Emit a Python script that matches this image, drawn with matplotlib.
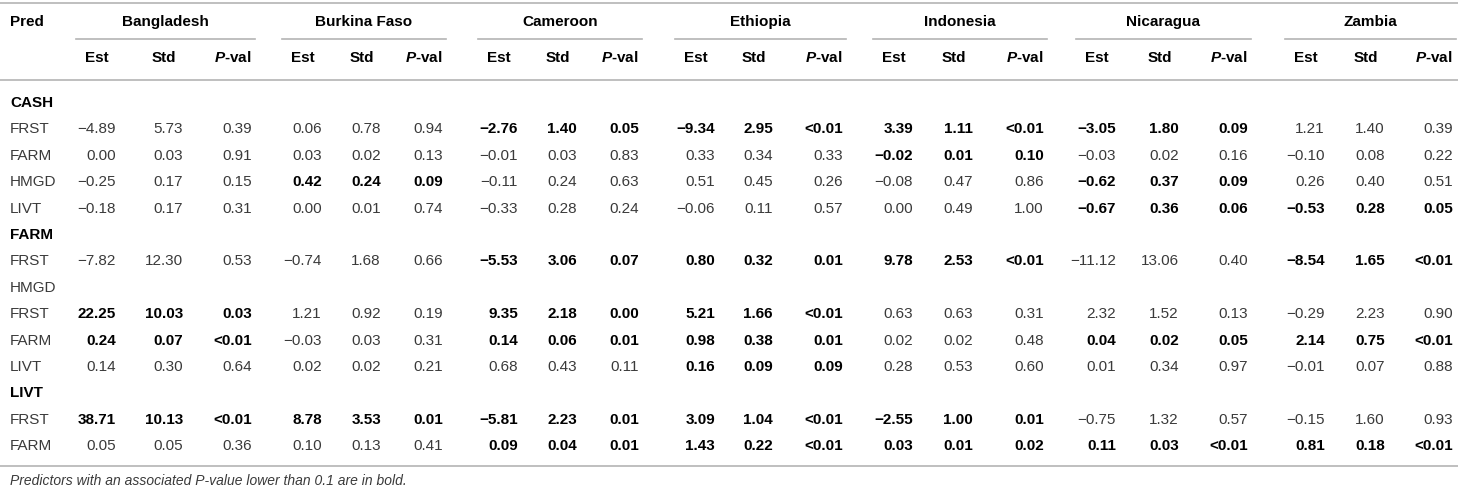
import matplotlib
matplotlib.use('Agg')
import matplotlib.pyplot as plt

plt.rcParams['font.family'] = ['Liberation Sans', 'DejaVu Sans']
plt.rcParams['mathtext.fontset'] = 'custom'
plt.rcParams['mathtext.rm'] = 'Liberation Sans'
plt.rcParams['mathtext.it'] = 'Liberation Sans:italic'
plt.rcParams['mathtext.bf'] = 'Liberation Sans:bold'
plt.rcParams['mathtext.bfit'] = 'Liberation Sans:italic:bold'

# 表格数据
countries = ['Bangladesh', 'Burkina Faso', 'Cameroon', 'Ethiopia', 'Indonesia', 'Nicaragua', 'Zambia']
sub_cols = ['Est', 'Std', 'P-val']

# 行标签: (文字, 是否分组标题)
row_labels = [('CASH', True), ('FRST', False), ('FARM', False), ('HMGD', False), ('LIVT', False),
              ('FARM', True), ('FRST', False),
              ('HMGD', False), ('FRST', False), ('FARM', False), ('LIVT', False),
              ('LIVT', True), ('FRST', False), ('FARM', False)]

est = {
    'Bangladesh':   ['−4.89', '0.00', '−0.25', '−0.18', '−7.82', '22.25', '0.24', '0.14', '38.71', '0.05'],
    'Burkina Faso': ['0.06', '0.03', '0.42', '0.00', '−0.74', '1.21', '−0.03', '0.02', '8.78', '0.10'],
    'Cameroon':     ['−2.76', '−0.01', '−0.11', '−0.33', '−5.53', '9.35', '0.14', '0.68', '−5.81', '0.09'],
    'Ethiopia':     ['−9.34', '0.33', '0.51', '−0.06', '0.80', '5.21', '0.98', '0.16', '3.09', '1.43'],
    'Indonesia':    ['3.39', '−0.02', '−0.08', '0.00', '9.78', '0.63', '0.02', '0.28', '−2.55', '0.03'],
    'Nicaragua':    ['−3.05', '−0.03', '−0.62', '−0.67', '−11.12', '2.32', '0.04', '0.01', '−0.75', '0.11'],
    'Zambia':       ['1.21', '−0.10', '0.26', '−0.53', '−8.54', '−0.29', '2.14', '−0.01', '−0.15', '0.81'],
}
std = {
    'Bangladesh':   ['5.73', '0.03', '0.17', '0.17', '12.30', '10.03', '0.07', '0.30', '10.13', '0.05'],
    'Burkina Faso': ['0.78', '0.02', '0.24', '0.01', '1.68', '0.92', '0.03', '0.02', '3.53', '0.13'],
    'Cameroon':     ['1.40', '0.03', '0.24', '0.28', '3.06', '2.18', '0.06', '0.43', '2.23', '0.04'],
    'Ethiopia':     ['2.95', '0.34', '0.45', '0.11', '0.32', '1.66', '0.38', '0.09', '1.04', '0.22'],
    'Indonesia':    ['1.11', '0.01', '0.47', '0.49', '2.53', '0.63', '0.02', '0.53', '1.00', '0.01'],
    'Nicaragua':    ['1.80', '0.02', '0.37', '0.36', '13.06', '1.52', '0.02', '0.34', '1.32', '0.03'],
    'Zambia':       ['1.40', '0.08', '0.40', '0.28', '1.65', '2.23', '0.75', '0.07', '1.60', '0.18'],
}
pval = {
    'Bangladesh':   ['0.39', '0.91', '0.15', '0.31', '0.53', '0.03', '<0.01', '0.64', '<0.01', '0.36'],
    'Burkina Faso': ['0.94', '0.13', '0.09', '0.74', '0.66', '0.19', '0.31', '0.21', '0.01', '0.41'],
    'Cameroon':     ['0.05', '0.83', '0.63', '0.24', '0.07', '0.00', '0.01', '0.11', '0.01', '0.01'],
    'Ethiopia':     ['<0.01', '0.33', '0.26', '0.57', '0.01', '<0.01', '0.01', '0.09', '<0.01', '<0.01'],
    'Indonesia':    ['<0.01', '0.10', '0.86', '1.00', '<0.01', '0.31', '0.48', '0.60', '0.01', '0.02'],
    'Nicaragua':    ['0.09', '0.16', '0.09', '0.06', '0.40', '0.13', '0.05', '0.97', '0.57', '<0.01'],
    'Zambia':       ['0.39', '0.22', '0.51', '0.05', '<0.01', '0.90', '<0.01', '0.88', '0.93', '<0.01'],
}

footnote = 'Predictors with an associated P-value lower than 0.1 are in bold.'

# 布局 (像素)
W, H = 1458, 492
col_right = [116, 183, 252, 322, 381, 443, 518, 577, 639, 715, 773, 843,
             913, 973, 1044, 1116, 1179, 1248, 1325, 1385, 1453]
y_head1, y_head2 = 22, 58
y_first, row_h = 103, 26.4
line_c = '#b4b4b4'
txt_c = '#3a3a3a'
fs = 11

fig = plt.figure(figsize=(W / 100, H / 100), dpi=100)
ax = fig.add_axes([0, 0, 1, 1])
ax.set_xlim(0, W)
ax.set_ylim(H, 0)
ax.axis('off')

# 横线
ax.plot([0, W], [3, 3], color=line_c, lw=1.2)
ax.plot([0, W], [80, 80], color=line_c, lw=1.2)
ax.plot([0, W], [466, 466], color=line_c, lw=1.2)

ax.text(10, y_head1, 'Pred', ha='left', va='center', fontsize=fs, fontweight='bold', color='black')

for ci, c in enumerate(countries):
    rights = col_right[ci * 3: ci * 3 + 3]
    x0 = rights[0] - 40
    x1 = rights[2] + 3
    ax.plot([x0, x1], [39, 39], color=line_c, lw=1.2)
    ax.text((x0 + x1) / 2, y_head1, c, ha='center', va='center', fontsize=fs,
            fontweight='bold', color='black')
    for k, s in enumerate(sub_cols):
        xc = rights[k] - 19
        if s == 'P-val':
            lab = r'$\mathbfit{P}$-val'
        else:
            lab = s
        ax.text(xc, y_head2, lab, ha='center', va='center', fontsize=fs,
                fontweight='bold', color='black')

# 数据行
di = 0
for ri, (lab, is_group) in enumerate(row_labels):
    y = y_first + ri * row_h
    ax.text(10, y, lab, ha='left', va='center', fontsize=fs,
            fontweight='bold' if is_group else 'normal',
            color='black' if is_group else txt_c)
    if is_group or (lab == 'HMGD' and ri == 7):
        continue
    for ci, c in enumerate(countries):
        p = pval[c][di]
        pnum = 0.0 if p.startswith('<') else float(p)
        bold = pnum <= 0.10
        vals = [est[c][di], std[c][di], p]
        for k, v in enumerate(vals):
            ax.text(col_right[ci * 3 + k], y, v, ha='right', va='center', fontsize=fs,
                    fontweight='bold' if bold else 'normal',
                    color='black' if bold else txt_c)
    di += 1

ax.text(10, 481, footnote, ha='left', va='center', fontsize=10, style='italic', color=txt_c)

fig.savefig('out.png', dpi=100)
